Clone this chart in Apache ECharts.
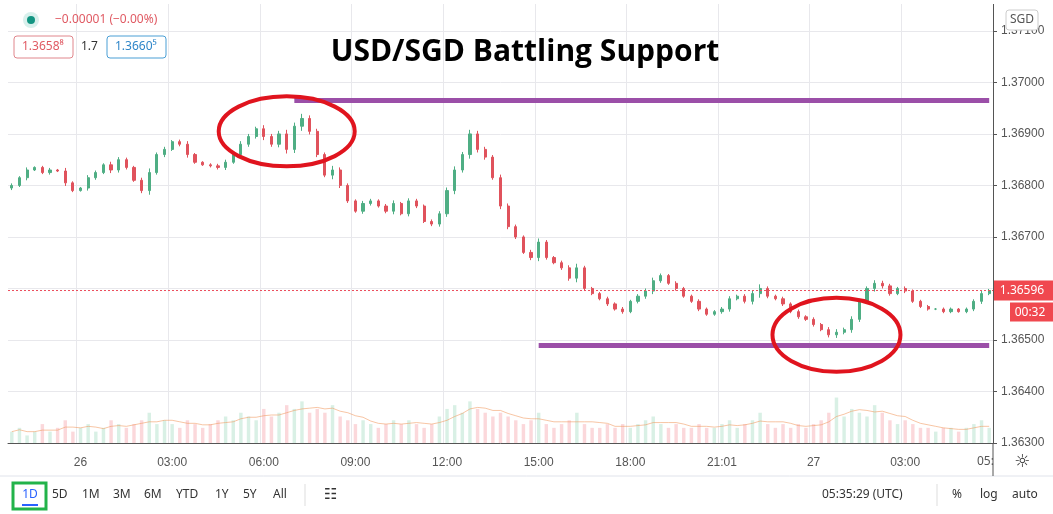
<!DOCTYPE html>
<html>
<head>
<meta charset="utf-8">
<script src="https://cdn.jsdelivr.net/npm/echarts@6/dist/echarts.min.js"></script>
<style>
  html, body { margin: 0; padding: 0; background: #fff; }
  #chart { width: 1053px; height: 514px; }
</style>
</head>
<body>
<div id="chart"></div>
<script>
// 15-minute closes, USD/SGD, starting 25th 21:45
const closes = [
  1.36800, 1.36815, 1.36830, 1.36835, 1.36825, 1.36830, 1.36828, 1.36805, 1.36790, 1.36795,
  1.36815, 1.36825, 1.36840, 1.36830, 1.36850, 1.36835, 1.36810, 1.36790, 1.36825, 1.36860,
  1.36870, 1.36885, 1.36880, 1.36860, 1.36845, 1.36840, 1.36838, 1.36835, 1.36845, 1.36860,
  1.36880, 1.36895, 1.36910, 1.36895, 1.36880, 1.36900, 1.36870, 1.36915, 1.36930, 1.36905,
  1.36860, 1.36820, 1.36830, 1.36800, 1.36770, 1.36750, 1.36765, 1.36770, 1.36760, 1.36750,
  1.36765, 1.36745, 1.36770, 1.36760, 1.36730, 1.36725, 1.36745, 1.36790, 1.36830, 1.36860,
  1.36900, 1.36870, 1.36855, 1.36815, 1.36760, 1.36720, 1.36700, 1.36670, 1.36660, 1.36690,
  1.36660, 1.36650, 1.36640, 1.36620, 1.36640, 1.36600, 1.36590, 1.36580, 1.36570, 1.36560,
  1.36555, 1.36575, 1.36585, 1.36595, 1.36615, 1.36625, 1.36610, 1.36600, 1.36585, 1.36575,
  1.36560, 1.36550, 1.36555, 1.36560, 1.36580, 1.36585, 1.36575, 1.36590, 1.36600, 1.36585,
  1.36580, 1.36570, 1.36555, 1.36545, 1.36540, 1.36530, 1.36520, 1.36510, 1.36515, 1.36520,
  1.36540, 1.36575, 1.36600, 1.36610, 1.36605, 1.36590, 1.36600, 1.36595, 1.36575, 1.36565,
  1.36560, 1.36560, 1.36555, 1.36560, 1.36555, 1.36560, 1.36575, 1.36590, 1.36596
];
// wick length per candle, in 0.00001 units
const wicks = [
  4, 3, 5, 2, 3, 4, 2, 6, 3, 2, 5, 4, 3, 6, 5, 4, 3, 5, 8, 4,
  5, 3, 4, 6, 3, 2, 3, 4, 5, 3, 6, 5, 4, 7, 5, 6, 8, 7, 9, 6,
  5, 4, 8, 5, 4, 3, 5, 4, 3, 4, 6, 3, 5, 4, 3, 4, 5, 6, 7, 5,
  8, 6, 5, 4, 6, 5, 4, 3, 5, 7, 4, 3, 4, 5, 8, 4, 3, 3, 4, 3,
  4, 3, 4, 5, 6, 4, 3, 4, 3, 3, 4, 3, 3, 4, 5, 3, 4, 6, 8, 4,
  3, 4, 3, 4, 3, 4, 3, 5, 6, 4, 6, 5, 4, 6, 5, 4, 3, 4, 3, 3,
  3, 2, 3, 3, 2, 3, 4, 5, 3
];
const volumes = [
  3, 4, 2, 3, 5, 3, 4, 6, 3, 4, 5, 3, 4, 6, 5, 4, 5, 6, 8, 5,
  6, 5, 4, 6, 5, 4, 5, 6, 7, 6, 8, 7, 6, 9, 7, 8, 10, 9, 11, 8,
  9, 8, 10, 7, 6, 5, 6, 5, 4, 5, 6, 5, 6, 5, 4, 5, 7, 9, 10, 8,
  11, 9, 8, 7, 8, 7, 6, 5, 6, 8, 5, 4, 5, 6, 8, 5, 4, 4, 5, 4,
  5, 4, 5, 6, 7, 5, 4, 5, 4, 4, 5, 4, 4, 5, 6, 4, 5, 6, 8, 5,
  4, 5, 4, 5, 4, 5, 6, 8, 12, 7, 9, 8, 7, 10, 8, 6, 5, 6, 5, 4,
  4, 3, 4, 4, 3, 4, 5, 6, 4
];
const resistance = 1.36965;
const support = 1.36490;
const lastPrice = 1.36596;

const times = closes.map((_, i) => {
  const m = 21 * 60 + 45 + i * 15;
  const day = 25 + Math.floor(m / 1440);
  const mm = m % 1440;
  return { day, h: Math.floor(mm / 60), m: mm % 60 };
});
const cats = times.map(t => t.day + ' ' + String(t.h).padStart(2, '0') + ':' + String(t.m).padStart(2, '0'));
function labelOf(i) {
  const t = times[i];
  if (t.m !== 0 || t.h % 3 !== 0) return '';
  if (t.h === 0) return String(t.day);
  if (t.h === 21 && t.day === 26) return '21:01';
  if (t.day === 25) return '';
  return String(t.h).padStart(2, '0') + ':00';
}

const candles = closes.map((c, i) => {
  const o = i === 0 ? c - 0.00005 : closes[i - 1];
  const w = wicks[i] * 0.00001;
  return [o, c, Math.min(o, c) - w, Math.max(o, c) + w];
});
const volBars = volumes.map((v, i) => ({
  value: v,
  itemStyle: { color: candles[i][1] >= candles[i][0] ? 'rgba(83,185,135,0.22)' : 'rgba(235,77,92,0.22)' }
}));
const volMa = volumes.map((v, i) => {
  const s = volumes.slice(Math.max(0, i - 4), i + 1);
  return s.reduce((a, b) => a + b, 0) / s.length;
});
const lastIdx = closes.length - 1;

const chart = echarts.init(document.getElementById('chart'));
chart.setOption({
  animation: false,
  grid: [
    { left: 8, right: 60, top: 0, height: 443 },
    { left: 8, right: 60, top: 390, height: 53 }
  ],
  xAxis: [{
    type: 'category', data: cats, gridIndex: 0, boundaryGap: true,
    axisLine: { lineStyle: { color: '#555' } },
    axisTick: { show: false },
    axisLabel: { interval: 0, formatter: (v, i) => labelOf(i), color: '#555', fontSize: 12, margin: 14 },
    splitLine: { show: true, interval: i => labelOf(i) !== '', lineStyle: { color: '#e8e8ec' } }
  }, {
    type: 'category', data: cats, gridIndex: 1, show: false
  }],
  yAxis: [{
    type: 'value', position: 'right', gridIndex: 0,
    min: 1.363, max: 1.3716, interval: 0.001,
    axisLine: { show: true, lineStyle: { color: '#555' } },
    axisTick: { show: true, length: 4, lineStyle: { color: '#555' } },
    axisLabel: { formatter: v => v.toFixed(5), color: '#555', fontSize: 12, margin: 8, showMaxLabel: false },
    splitLine: { lineStyle: { color: '#e8e8ec' } }
  }, {
    type: 'value', gridIndex: 1, max: 14, show: false
  }],
  series: [{
    type: 'bar', xAxisIndex: 1, yAxisIndex: 1, data: volBars, barWidth: '45%'
  }, {
    type: 'line', xAxisIndex: 1, yAxisIndex: 1, data: volMa, symbol: 'none',
    lineStyle: { color: 'rgba(240,150,90,0.55)', width: 1 }
  }, {
    type: 'candlestick', data: candles, barWidth: '35%',
    itemStyle: { color: '#4fae84', color0: '#e0525c', borderColor: '#4fae84', borderColor0: '#e0525c' },
    markLine: {
      symbol: 'none', silent: true, label: { show: false },
      data: [
        [{ coord: [37, resistance], lineStyle: { color: '#9b4fa8', width: 5, type: 'solid' } }, { coord: [lastIdx, resistance] }],
        [{ coord: [69, support], lineStyle: { color: '#9b4fa8', width: 5, type: 'solid' } }, { coord: [lastIdx, support] }]
      ]
    }
  }]
});

function px(i, p) { return chart.convertToPixel({ gridIndex: 0 }, [i, p]); }
const e1 = px(36, 1.36905);
const e2 = px(108, 1.36510);
const pTag = px(lastIdx, lastPrice);
const txt = (x, y, text, o) => ({ type: 'text', x, y, z: 100, style: Object.assign({ text, font: '12px "Noto Sans"', fill: '#333', textVerticalAlign: 'middle' }, o || {}) });
const box = (x, y, w, h, style) => ({ type: 'rect', z: 99, shape: { x, y, width: w, height: h, r: style.r || 0 }, style });
chart.setOption({
  graphic: [
    { type: 'line', z: 50, shape: { x1: 8, y1: pTag[1], x2: 993, y2: pTag[1] }, style: { stroke: '#eb4d5c', lineWidth: 1, lineDash: [2, 2] } },
    { type: 'ellipse', z: 60, shape: { cx: e1[0], cy: e1[1], rx: 68, ry: 35 }, style: { fill: 'none', stroke: '#e0141e', lineWidth: 4 } },
    { type: 'ellipse', z: 60, shape: { cx: e2[0], cy: e2[1], rx: 64, ry: 37 }, style: { fill: 'none', stroke: '#e0141e', lineWidth: 4 } },
    txt(525, 52, 'USD/SGD Battling Support', { font: 'bold 30px "Open Sans"', fill: '#000', textAlign: 'center' }),
    { type: 'circle', z: 99, shape: { cx: 31, cy: 20, r: 8 }, style: { fill: '#d8f0ec' } },
    { type: 'circle', z: 100, shape: { cx: 31, cy: 20, r: 4 }, style: { fill: '#129582' } },
    txt(55, 20, '\u22120.00001 (\u22120.00%)', { fill: '#e05a63' }),
    box(14, 36, 59, 22, { fill: '#fff', stroke: '#e0868c', r: 3 }),
    txt(22, 47, '1.3658\u2078', { fill: '#e05a63' }),
    txt(81, 47, '1.7', { fill: '#333' }),
    box(107, 36, 59, 22, { fill: '#fff', stroke: '#4b9fd5', r: 3 }),
    txt(115, 47, '1.3660\u2075', { fill: '#2f86c9' }),
    box(0, 0, 1053, 4, { fill: '#fff' }),
    box(1006, 10, 32, 20, { fill: '#fff', stroke: '#ccc', r: 3 }),
    txt(1022, 20, 'SGD', { fill: '#555', textAlign: 'center' }),
    box(994, pTag[1] - 10, 59, 20, { fill: '#f0484f' }),
    txt(1022, pTag[1], lastPrice.toFixed(5), { fill: '#fff', textAlign: 'center' }),
    box(1010, pTag[1] + 12, 43, 19, { fill: '#f0484f' }),
    txt(1030, pTag[1] + 22, '00:32', { fill: '#fff', textAlign: 'center' }),
    txt(977, 462, '05:', { fill: '#555' }),
    txt(1022, 462, '\u263c', { font: '18px "DejaVu Sans"', fill: '#333', textAlign: 'center' }),
    { type: 'line', shape: { x1: 0, y1: 476, x2: 1053, y2: 476 }, style: { stroke: '#e0e3eb' } },
    { type: 'line', shape: { x1: 993, y1: 443, x2: 993, y2: 476 }, style: { stroke: '#555' } },
    { type: 'rect', shape: { x: 13, y: 483, width: 33, height: 26 }, style: { fill: 'none', stroke: '#22b34a', lineWidth: 3 } },
    txt(30, 495, '1D', { fill: '#2962ff', textAlign: 'center' }),
    { type: 'line', shape: { x1: 22, y1: 505, x2: 38, y2: 505 }, style: { stroke: '#2962ff', lineWidth: 2 } },
    txt(52, 495, '5D'), txt(82, 495, '1M'), txt(113, 495, '3M'), txt(144, 495, '6M'),
    txt(176, 495, 'YTD'), txt(215, 495, '1Y'), txt(243, 495, '5Y'), txt(273, 495, 'All'),
    { type: 'line', shape: { x1: 305, y1: 484, x2: 305, y2: 506 }, style: { stroke: '#ddd' } },
    txt(324, 495, '\u2637', { font: '15px "DejaVu Sans"' }),
    txt(822, 495, '05:35:29 (UTC)'),
    { type: 'line', shape: { x1: 937, y1: 484, x2: 937, y2: 506 }, style: { stroke: '#ddd' } },
    txt(952, 495, '%'), txt(980, 495, 'log'), txt(1012, 495, 'auto')
  ]
});
</script>
</body>
</html>
